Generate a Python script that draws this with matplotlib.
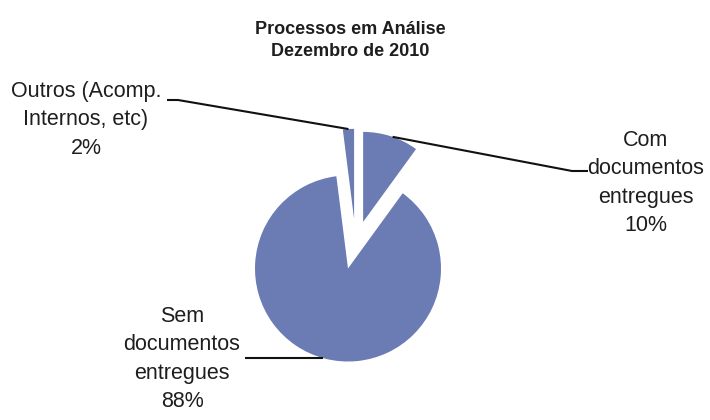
import numpy as np
import matplotlib.pyplot as plt

title = 'Processos em Análise\nDezembro de 2010'
categories = ['Com\ndocumentos\nentregues', 'Sem\ndocumentos\nentregues',
              'Outros (Acomp.\nInternos, etc)']
shares = [10, 88, 2]

FONT = 'Liberation Sans'
R = 93
CX, CY = 348, 151.5
PULL = 49

fig = plt.figure(figsize=(7.1, 4.2), dpi=100)
ax = fig.add_axes([0, 0, 1, 1])

# explode is in data units when center/radius are given in data units
wedges, _ = ax.pie(shares, explode=[PULL, 0, 0], startangle=90, counterclock=False,
                   center=(CX, CY), radius=R, colors=['#6b7bb3'] * 3,
                   wedgeprops=dict(linewidth=0), frame=True)

# the thin slice is pulled out a little more to the right than its bisector
a = np.deg2rad(83)
wedges[2].set_center((CX + 50 * np.cos(a), CY + 50 * np.sin(a)))
for w in (wedges[0], wedges[2]):
    w.set_radius(90)

ax.set_xlim(0, 710)
ax.set_ylim(0, 420)
ax.set_aspect('equal')
ax.axis('off')

ax.text(350, 399, title, ha='center', va='top', fontsize=13, fontweight='bold',
        family=FONT, color='#1e1e1e', linespacing=1.4)

def rim(w, frac):
    t = np.deg2rad(w.theta1 + frac * (w.theta2 - w.theta1))
    return w.center[0] + w.r * np.cos(t), w.center[1] + w.r * np.sin(t)

lab = dict(ha='center', va='center', fontsize=15.5, family=FONT,
           color='#1e1e1e', linespacing=1.47)
line = dict(color='#111111', lw=1.5, solid_capstyle='butt')

# Com documentos entregues
ax.text(646, 237, f'{categories[0]}\n{shares[0]}%', **lab)
x, y = rim(wedges[0], 0.47)
ax.plot([x, 572, 588], [y, 249, 249], **line)

# Outros
ax.text(86, 300, f'{categories[2]}\n{shares[2]}%', **lab)
x, y = rim(wedges[2], 0.5)
ax.plot([167, 178, x], [320, 320, y], **line)

# Sem documentos entregues
ax.text(182, 61, f'{categories[1]}\n{shares[1]}%', **lab)
w = wedges[1]
ly = 62
lx = w.center[0] - np.sqrt(w.r ** 2 - (w.center[1] - ly) ** 2)
ax.plot([245, lx], [ly, ly], **line)

fig.savefig('out.png', dpi=100)
